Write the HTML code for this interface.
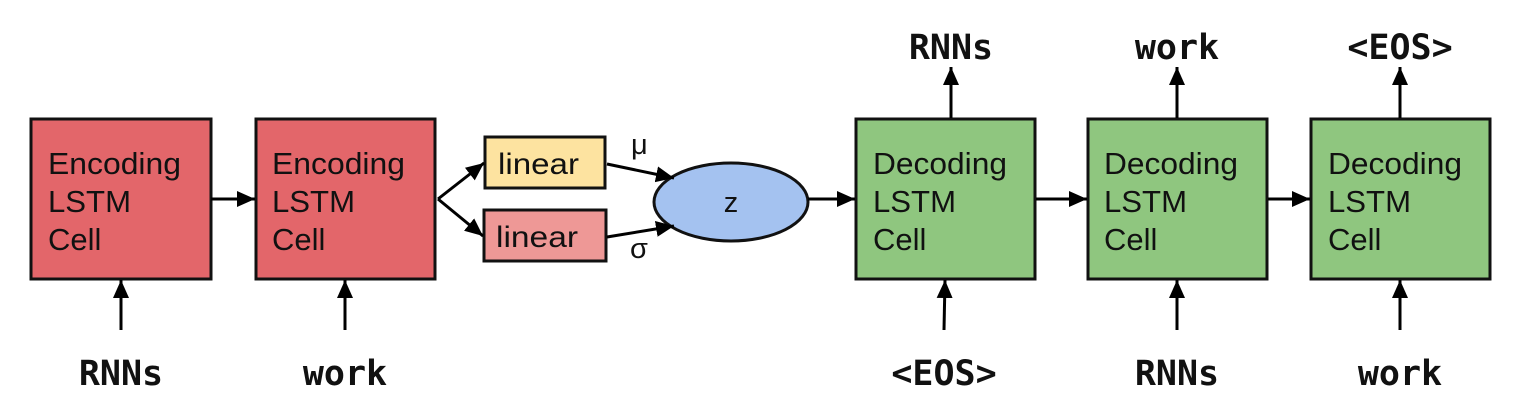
<!DOCTYPE html>
<html><head><meta charset="utf-8"><style>
html,body{margin:0;padding:0;background:#fff;}
</style></head><body>
<svg width="1532" height="414" viewBox="0 0 1532 414" xmlns="http://www.w3.org/2000/svg">
<defs>
<marker id="b" markerWidth="18" markerHeight="16" refX="18" refY="8" orient="auto" markerUnits="userSpaceOnUse">
<path d="M0,0 L18,8 L0,16 z" fill="#000"/>
</marker>
</defs>
<g stroke="#111" stroke-width="3">
<rect x="31" y="119" width="180" height="160" fill="#e3666a"/>
<rect x="256" y="119" width="179" height="160" fill="#e3666a"/>
<rect x="485" y="137" width="120" height="51" fill="#fde3a0"/>
<rect x="484" y="210" width="122" height="51" fill="#ee9896"/>
<ellipse cx="731" cy="202" rx="77" ry="39" fill="#a4c2f0"/>
<rect x="856" y="119" width="179" height="160" fill="#8fc67f"/>
<rect x="1088" y="119" width="179" height="160" fill="#8fc67f"/>
<rect x="1311" y="119" width="179" height="160" fill="#8fc67f"/>
</g>
<g stroke="#000" stroke-width="3" fill="none" marker-end="url(#b)">
<line x1="211" y1="199" x2="255" y2="199"/>
<line x1="438" y1="199" x2="484" y2="163"/>
<line x1="438" y1="199" x2="483" y2="236"/>
<line x1="607" y1="164" x2="674" y2="178"/>
<line x1="607" y1="237" x2="674" y2="226"/>
<line x1="808" y1="199" x2="855" y2="199"/>
<line x1="1036" y1="199" x2="1087" y2="199"/>
<line x1="1268" y1="199" x2="1310" y2="199"/>
<line x1="121" y1="330" x2="121" y2="280"/>
<line x1="345" y1="330" x2="345" y2="280"/>
<line x1="944" y1="330" x2="945" y2="280"/>
<line x1="1177" y1="330" x2="1177" y2="280"/>
<line x1="1400" y1="330" x2="1400" y2="280"/>
<line x1="951" y1="118" x2="951" y2="67"/>
<line x1="1177" y1="118" x2="1177" y2="67"/>
<line x1="1400" y1="118" x2="1400" y2="67"/>
</g>
<g font-family="Liberation Sans, sans-serif" font-size="31" fill="#111">
<text x="48" y="174" textLength="133" lengthAdjust="spacingAndGlyphs">Encoding</text><text x="48" y="212" textLength="83" lengthAdjust="spacingAndGlyphs">LSTM</text><text x="48" y="250">Cell</text>
<text x="272" y="174" textLength="133" lengthAdjust="spacingAndGlyphs">Encoding</text><text x="272" y="212" textLength="83" lengthAdjust="spacingAndGlyphs">LSTM</text><text x="272" y="250">Cell</text>
<text x="873" y="174" textLength="134" lengthAdjust="spacingAndGlyphs">Decoding</text><text x="873" y="212" textLength="83" lengthAdjust="spacingAndGlyphs">LSTM</text><text x="873" y="250">Cell</text>
<text x="1104" y="174" textLength="134" lengthAdjust="spacingAndGlyphs">Decoding</text><text x="1104" y="212" textLength="83" lengthAdjust="spacingAndGlyphs">LSTM</text><text x="1104" y="250">Cell</text>
<text x="1328" y="174" textLength="134" lengthAdjust="spacingAndGlyphs">Decoding</text><text x="1328" y="212" textLength="83" lengthAdjust="spacingAndGlyphs">LSTM</text><text x="1328" y="250">Cell</text>
<text x="498" y="174" textLength="81" lengthAdjust="spacingAndGlyphs" font-size="30">linear</text>
<text x="496" y="247" textLength="82" lengthAdjust="spacingAndGlyphs" font-size="30">linear</text>
<text x="731" y="212" text-anchor="middle" font-size="29">z</text>
<text x="631" y="154" font-size="29">μ</text>
<text x="630" y="258" font-size="29">σ</text>
</g>
<g font-family="DejaVu Sans Mono, Liberation Mono, monospace" font-weight="bold" font-size="35" fill="#111" text-anchor="middle">
<text x="121" y="385">RNNs</text>
<text x="345" y="385">work</text>
<text x="944" y="385">&lt;EOS&gt;</text>
<text x="1177" y="385">RNNs</text>
<text x="1400" y="385">work</text>
<text x="951" y="59">RNNs</text>
<text x="1177" y="59">work</text>
<text x="1400" y="59">&lt;EOS&gt;</text>
</g>
</svg>
</body></html>
